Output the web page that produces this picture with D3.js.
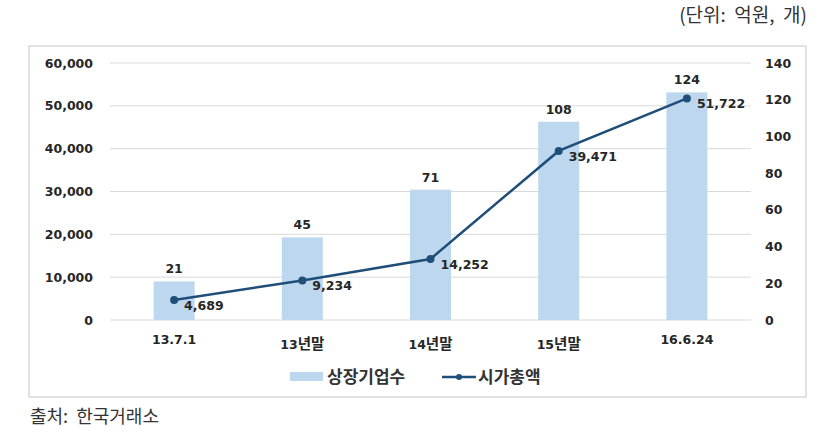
<!DOCTYPE html>
<html><head><meta charset="utf-8">
<script src="https://cdn.jsdelivr.net/npm/d3@7"></script>
<style>body{margin:0;background:#fff}</style>
</head><body>
<svg id="c" width="822" height="444"></svg>
<script>
const categories = ["13.7.1","13년말","14년말","15년말","16.6.24"];
const companies = [21,45,71,108,124];           // 상장기업수 (개)
const marketCap = [4689,9234,14252,39471,51722]; // 시가총액 (억원)
const leftTicks = [0,10000,20000,30000,40000,50000,60000];
const rightTicks = [0,20,40,60,80,100,120,140];
const seriesNames = ["상장기업수","시가총액"];

const svg = d3.select("#c");
const numFont = "'DejaVu Sans', 'Noto Sans CJK KR', Verdana, sans-serif";
const krFont = "'Noto Sans CJK KR', sans-serif";

svg.append("rect").attr("x",29).attr("y",46).attr("width",777).attr("height",351)
  .attr("fill","#fff").attr("stroke","#d9d9d9").attr("stroke-width",1.5);

svg.append("text").attr("x",807).attr("y",22).attr("text-anchor","end")
  .attr("font-family",krFont).attr("font-size",19).attr("fill","#333")
  .style("white-space","pre").text("(단위:  억원,  개)");
svg.append("text").attr("x",30).attr("y",423)
  .attr("font-family",krFont).attr("font-size",18).attr("fill","#333")
  .style("white-space","pre").text("출처:  한국거래소");

const x = d3.scaleBand().domain(categories).range([110,751]).paddingInner(0.68).paddingOuter(0.34);
const yL = d3.scaleLinear().domain([0,60000]).range([320,63]);
const yR = d3.scaleLinear().domain([0,140]).range([320,63]);

// grid
svg.append("g").selectAll("line").data(leftTicks).join("line")
  .attr("x1",110).attr("x2",751).attr("y1",d=>yL(d)).attr("y2",d=>yL(d))
  .attr("stroke","#d9d9d9").attr("stroke-width",1);

// axes
const fmt = d3.format(",");
const ga = svg.append("g").attr("transform","translate(96,0)")
  .call(d3.axisLeft(yL).tickValues(leftTicks).tickFormat(fmt).tickSize(0));
ga.select(".domain").remove();
ga.selectAll("text").attr("font-family",numFont).attr("font-weight","bold").attr("font-size",12.5).attr("fill","#262626");
const gr = svg.append("g").attr("transform","translate(762,0)")
  .call(d3.axisRight(yR).tickValues(rightTicks).tickSize(0));
gr.select(".domain").remove();
gr.selectAll("text").attr("font-family",numFont).attr("font-weight","bold").attr("font-size",12.5).attr("fill","#262626");
const gx = svg.append("g").attr("transform","translate(0,330)")
  .call(d3.axisBottom(x).tickSize(0));
gx.select(".domain").remove();
gx.selectAll("text").attr("font-family",numFont).attr("font-weight","bold").attr("font-size",12.5).attr("fill","#262626")
  .attr("dy",d=>/[가-힣]/.test(d)?"1.25em":"0.9em")
  .each(function(d){
    if(/[가-힣]/.test(d)){
      const t=d3.select(this); t.text(null);
      const m=d.match(/^([0-9.]+)(.*)$/);
      t.append("tspan").text(m[1]);
      t.append("tspan").attr("font-family",krFont).attr("font-size",14.5).text(m[2]);
    }
  });

// bars
svg.append("g").selectAll("rect").data(companies).join("rect")
  .attr("x",(d,i)=>x(categories[i])).attr("width",x.bandwidth())
  .attr("y",d=>yR(d)).attr("height",d=>yR(0)-yR(d)).attr("fill","#bdd7ee");
svg.append("g").selectAll("text").data(companies).join("text")
  .attr("x",(d,i)=>x(categories[i])+x.bandwidth()/2).attr("y",d=>yR(d)-8)
  .attr("text-anchor","middle").attr("font-family",numFont).attr("font-weight","bold")
  .attr("font-size",12.5).attr("fill","#262626").text(d=>d);

// line
const cx = (i)=>x(categories[i])+x.bandwidth()/2;
svg.append("path").datum(marketCap)
  .attr("d",d3.line().x((d,i)=>cx(i)).y(d=>yL(d)))
  .attr("fill","none").attr("stroke","#1f4e79").attr("stroke-width",2.5);
svg.append("g").selectAll("circle").data(marketCap).join("circle")
  .attr("cx",(d,i)=>cx(i)).attr("cy",d=>yL(d)).attr("r",4).attr("fill","#1f4e79");
svg.append("g").selectAll("text").data(marketCap).join("text")
  .attr("x",(d,i)=>cx(i)+10).attr("y",d=>yL(d)+10)
  .attr("font-family",numFont).attr("font-weight","bold")
  .attr("font-size",12.5).attr("fill","#262626").text(d=>fmt(d));

// legend
const lg = svg.append("g");
lg.append("rect").attr("x",290).attr("y",372).attr("width",33).attr("height",9).attr("fill","#bdd7ee");
lg.append("text").attr("x",327).attr("y",383).attr("font-family",krFont).attr("font-weight","bold").attr("font-size",17).attr("fill","#333").text(seriesNames[0]);
lg.append("line").attr("x1",442).attr("x2",476).attr("y1",377).attr("y2",377).attr("stroke","#1f4e79").attr("stroke-width",2.5);
lg.append("circle").attr("cx",459).attr("cy",377).attr("r",3).attr("fill","#1f4e79");
lg.append("text").attr("x",478).attr("y",383).attr("font-family",krFont).attr("font-weight","bold").attr("font-size",17).attr("fill","#333").text(seriesNames[1]);
</script>
</body></html>
